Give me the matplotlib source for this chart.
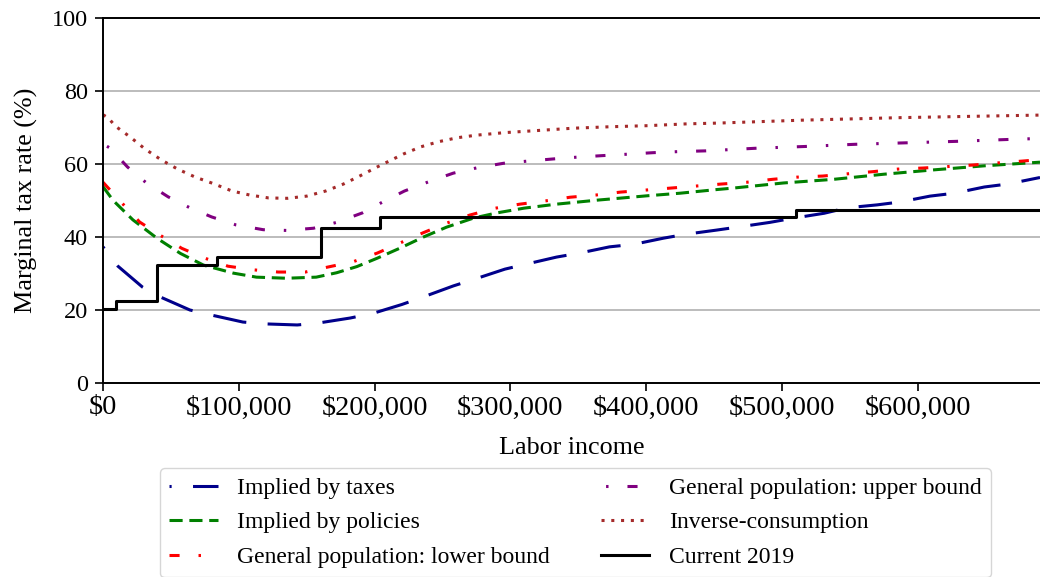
import numpy as np
import matplotlib
matplotlib.use("Agg")
import matplotlib.pyplot as plt
import matplotlib.ticker as ticker

plt.rcParams["font.family"] = ["Liberation Serif", "DejaVu Serif"]

# income in thousands of dollars
taxes_x = [0, 11, 29, 42, 64, 80, 103, 119, 143, 158, 182, 199, 220, 236, 258, 274, 296, 312, 334,
           351, 373, 391, 413, 430, 452, 469, 491, 509, 531, 548, 570, 587, 609, 627, 649, 666, 690]
taxes_y = [37.3, 32.0, 26.3, 23.6, 20.0, 18.6, 16.7, 16.2, 15.9, 16.4, 17.8, 19.1, 21.5, 23.6, 26.6, 28.5,
           31.2, 32.6, 34.5, 35.6, 37.3, 38.0, 39.7, 40.8, 41.9, 42.8, 44.0, 45.2, 46.5, 48.0, 48.8, 49.6,
           51.2, 52.0, 53.7, 54.5, 56.3]

policies_x = [0, 7.5, 22, 40, 57, 74, 96, 113, 135, 157, 172, 187, 202, 219, 236, 253, 273, 290, 310,
              334, 364, 401, 425, 452, 464, 501, 538, 575, 612, 649, 690]
policies_y = [53.8, 50.0, 44.7, 39.6, 35.5, 32.3, 30.1, 29.0, 28.7, 29.0, 30.2, 31.9, 34.2, 37.0, 40.0,
              42.7, 45.2, 46.6, 47.9, 49.0, 50.1, 51.3, 52.0, 53.0, 53.4, 54.8, 55.8, 57.2, 58.4, 59.5, 60.5]

lower_x = [0, 14, 27, 42, 58, 75, 92, 111, 129, 149, 166, 184, 202, 219, 236, 253, 270, 289, 307, 326,
           344, 363, 381, 401, 418, 438, 455, 474, 493, 511, 530, 548, 567, 585, 604, 622, 640, 659, 677, 690]
lower_y = [55.0, 49.3, 44.1, 40.5, 36.9, 34.2, 32.0, 31.0, 30.4, 30.4, 31.8, 33.2, 35.6, 38.4, 41.2,
           43.8, 46.0, 47.9, 49.0, 49.9, 50.9, 51.5, 52.3, 52.9, 53.4, 54.0, 54.5, 55.0, 55.8, 56.4, 56.7,
           57.3, 57.9, 58.6, 58.9, 59.3, 59.7, 60.3, 60.8, 61.2]

upper_x = [0, 5, 18, 32, 48, 64, 80, 98, 118, 135, 155, 172, 191, 206, 222, 241, 258, 276, 295, 313,
           332, 350, 368, 387, 405, 424, 444, 480, 517, 554, 591, 628, 665, 690]
upper_y = [65.5, 64.4, 59.2, 54.8, 51.0, 48.0, 45.5, 43.3, 42.0, 41.8, 42.4, 44.0, 46.6, 49.6, 52.6,
           55.3, 57.5, 59.0, 60.2, 60.8, 61.4, 61.9, 62.3, 62.7, 63.1, 63.4, 63.6, 64.3, 64.8, 65.4, 65.8,
           66.2, 66.7, 67.0]

inverse_x = [0, 4, 9, 20, 31, 43, 55, 68, 80, 95, 108, 122, 136, 150, 164, 177, 189, 202, 214, 221,
             234, 247, 261, 275, 296, 317, 346, 373, 401, 430, 452, 514, 587, 690]
inverse_y = [73.5, 72.6, 70.4, 67.4, 64.1, 61.1, 58.6, 56.4, 54.8, 52.6, 51.5, 50.7, 50.6, 51.2, 52.6,
             54.5, 56.7, 59.2, 61.4, 62.7, 64.7, 66.1, 67.2, 67.9, 68.6, 69.1, 69.8, 70.2, 70.5, 71.0,
             71.2, 72.0, 72.7, 73.4]

# 2019 brackets (bracket starts) and marginal rates
current_x = [0, 9.7, 39.475, 84.2, 160.725, 204.1, 510.3, 690]
current_y = [20.4, 22.4, 32.4, 34.4, 42.4, 45.4, 47.4, 47.4]

W, H, DPI = 1040, 577, 100
fig = plt.figure(figsize=(W / DPI, H / DPI), dpi=DPI)
ax = fig.add_axes([103 / W, 1 - 383 / H, 1 - 103 / W, (383 - 18) / H])

LW = 2.2
ax.plot(np.array(taxes_x) * 1000, taxes_y, color="darkblue", lw=LW,
        linestyle=(10.3, (11, 7)), label="Implied by taxes")
ax.plot(np.array(policies_x) * 1000, policies_y, color="green", lw=LW,
        linestyle=(0, (4.3, 2.2)), label="Implied by policies")
ax.plot(np.array(lower_x) * 1000, lower_y, color="red", lw=LW,
        linestyle=(0, (3.3, 6.2, 0.8, 6.2)), label="General population: lower bound")
ax.plot(np.array(upper_x) * 1000, upper_y, color="purple", lw=LW,
        linestyle=(8, (3.3, 6.2, 0.8, 6.2)), label="General population: upper bound")
ax.plot(np.array(inverse_x) * 1000, inverse_y, color="brown", lw=LW,
        linestyle=(0, (1, 2.2)), label="Inverse-consumption")
ax.step(np.array(current_x) * 1000, current_y, where="post", color="black", lw=2.2,
        label="Current 2019")

ax.set_xlim(0, 690000)
ax.set_ylim(0, 100)
ax.xaxis.set_major_locator(ticker.MultipleLocator(100000))
ax.xaxis.set_major_formatter(ticker.FuncFormatter(lambda v, p: f"${v:,.0f}"))
ax.yaxis.set_major_locator(ticker.MultipleLocator(20))
ax.grid(axis="y", color="#b0b0b0", lw=1.2)
ax.set_axisbelow(True)
ax.spines["right"].set_visible(False)
for s in ["left", "bottom", "top"]:
    ax.spines[s].set_linewidth(1.4)

ax.tick_params(axis="y", labelsize=17.5, length=6, width=1.2, pad=5)
ax.tick_params(axis="x", labelsize=20.3, length=6, width=1.2, pad=3)
ax.set_xlabel("Labor income", fontsize=18.8, labelpad=12)
ax.set_ylabel("Marginal tax rate (%)", fontsize=18.8, labelpad=10)

ax.legend(ncol=2, fontsize=17.0, loc="upper left", bbox_to_anchor=(160 / W, 1 - 468 / H),
          bbox_transform=fig.transFigure, borderaxespad=0, handlelength=2.05, handletextpad=0.83,
          columnspacing=2.15, labelspacing=0.55)

fig.savefig("out.png", dpi=DPI)
